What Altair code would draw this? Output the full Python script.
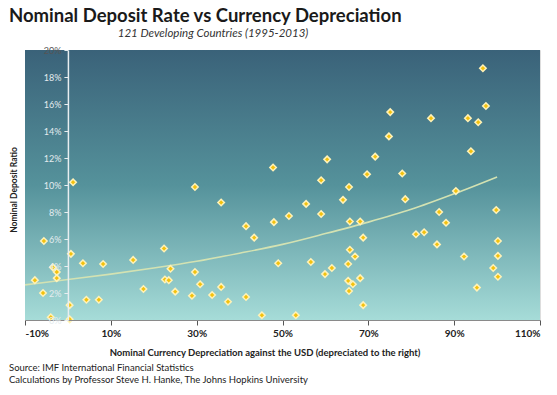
import altair as alt
import pandas as pd

# Scatter data: (nominal currency depreciation %, nominal deposit rate %)
dep_x = [1.2, 29.6, -5.6, 0.7, 3.5, 8.2, 15.2, 22.4, -3.5, -2.6, -2.6, -7.7, -5.8, 0.4, 4.3, 7.2,
         17.6, -4.0, 0.4, 22.6, 23.5, 23.9, 25.0, 29.6, 28.9, 30.8, 35.7, 47.8, 60.4, 71.6, 59.0,
         69.7, 65.5, 64.1, 55.5, 51.5, 59.0, 48.0, 41.5, 43.4, 65.7, 68.1, 68.8, 65.7, 66.9, 65.3,
         49.0, 56.6, 59.9, 61.5, 65.3, 66.4, 68.1, 65.5, 68.8, 33.6, 35.7, 37.3, 41.5, 45.2, 53.1,
         96.7, 97.4, 75.1, 84.6, 93.2, 95.6, 74.8, 93.9, 77.9, 78.6, 90.4, 86.5, 99.8, 88.1, 81.1,
         83.0, 86.0, 100.2, 92.3, 100.2, 99.1, 100.2, 95.3]
rate_y = [10.2, 9.85, 5.85, 4.9, 4.2, 4.15, 4.45, 5.3, 3.9, 3.55, 3.1, 2.95, 2.0, 1.1, 1.5, 1.5,
          2.3, 0.2, 0.05, 3.0, 2.95, 3.8, 2.1, 3.55, 1.8, 2.65, 8.7, 11.3, 11.9, 12.1, 10.35,
          10.8, 9.85, 8.9, 8.6, 7.7, 7.85, 7.25, 6.95, 6.1, 7.3, 7.3, 6.1, 5.2, 4.7, 4.15,
          4.2, 4.3, 3.4, 3.85, 2.9, 2.65, 3.1, 2.15, 1.1, 1.85, 2.45, 1.35, 1.7, 0.35, 0.35,
          18.65, 15.85, 15.4, 14.95, 14.95, 14.65, 13.6, 12.5, 10.85, 8.95, 9.55, 8.0, 8.15, 7.2, 6.35,
          6.5, 5.6, 5.85, 4.7, 4.75, 3.85, 3.2, 2.4]

# Trend line values
trend_x = [-10, 0, 10, 20, 30, 40, 50, 60, 70, 80, 90, 100]
trend_y = [2.6, 3.0, 3.4, 3.85, 4.35, 4.95, 5.6, 6.4, 7.25, 8.2, 9.35, 10.6]

x_ticks = [-10, 10, 30, 50, 70, 90, 110]
y_ticks = [0, 2, 4, 6, 8, 10, 12, 14, 16, 18, 20]

title = "Nominal Deposit Rate vs Currency Depreciation"
subtitle = "121 Developing Countries (1995-2013)"
x_title = "Nominal Currency Depreciation against the USD (depreciated to the right)"
y_title = "Nominal Deposit Ratio"
source_lines = ["Source:  IMF International Financial Statistics",
                "Calculations by Professor Steve H. Hanke, The Johns Hopkins University"]

W, H = 515, 270
FONT = "Lato"

pts = pd.DataFrame({"x": dep_x, "y": rate_y})
trend = pd.DataFrame({"x": trend_x, "y": trend_y})

xs = alt.Scale(domain=[-10, 110], nice=False, zero=False)
ys = alt.Scale(domain=[0, 20], nice=False, zero=False)

x_axis = alt.Axis(
    values=x_ticks, labelExpr="datum.value + '%'", title=None, grid=False, zindex=1,
    labelOverlap=False,
    domainColor="#8a8a8a", tickColor="#555555", tickSize=5, labelColor="#222222",
    labelFont=FONT, labelFontSize=10, labelFontWeight="bold", labelPadding=3)
y_axis = alt.Axis(
    values=y_ticks, labelExpr="datum.value + '%'", title=None, grid=False, zindex=1,
    labelOverlap=False, labelBound=False,
    labelColor={"condition": {"test": "datum.value >= 20", "value": "#555555"}, "value": "#e4ecef"},
    offset=-W * 10 / 120, domainColor="#e8eef0", domainWidth=1.5,
    tickColor="#e8eef0", tickSize=4,
    labelFont=FONT, labelFontSize=9, labelPadding=3)

def xe():
    return alt.X("x:Q", scale=xs, axis=x_axis)

def ye():
    return alt.Y("y:Q", scale=ys, axis=y_axis)

bg = alt.Chart(pd.DataFrame({"a": [0]})).mark_rect(
    color=alt.LinearGradient(
        gradient="linear", x1=0, y1=0, x2=0, y2=1,
        stops=[alt.GradientStop(offset=0, color="#3a6279"),
               alt.GradientStop(offset=0.5, color="#55929b"),
               alt.GradientStop(offset=1, color="#a6dcd8")])
).encode(x=alt.value(0), x2=alt.value(W), y=alt.value(0), y2=alt.value(H))

line = alt.Chart(trend).mark_line(color="#d3e2b2", strokeWidth=1.6, interpolate="monotone").encode(
    x=xe(), y=ye())

points = alt.Chart(pts).mark_point(shape="diamond", filled=True, size=42, fill="#f4c20d",
                                   stroke="#fff2b8", strokeWidth=1.5, opacity=1).encode(
    x=xe(), y=ye())

def text_layer(txt, x, y, **kw):
    return alt.Chart(pd.DataFrame({"t": [txt]})).mark_text(**kw).encode(
        text="t:N", x=alt.value(x), y=alt.value(y))

texts = [
    text_layer(title, -16, -28, align="left", baseline="alphabetic", font=FONT,
               fontSize=18.5, fontWeight="bold", color="#1a1a1a"),
    text_layer(subtitle, 188, -13, align="center", baseline="alphabetic", font=FONT,
               fontSize=11.5, fontStyle="italic", color="#333333"),
    text_layer(x_title, 240, 306, align="center", baseline="alphabetic", font=FONT,
               fontSize=9.5, fontWeight="bold", color="#222222"),
    text_layer(y_title, -11, 140, align="center", baseline="middle", font=FONT,
               fontSize=8.5, fontWeight="bold", color="#222222", angle=270),
    text_layer(source_lines[0], -16, 321, align="left", baseline="alphabetic", font=FONT,
               fontSize=9.5, color="#222222"),
    text_layer(source_lines[1], -16, 333, align="left", baseline="alphabetic", font=FONT,
               fontSize=9.5, color="#222222"),
]

chart = alt.layer(bg, line, points, *texts).properties(
    width=W, height=H,
    autosize=alt.AutoSizeParams(type="none"),
    padding={"left": 17, "top": 42, "right": 8, "bottom": 70},
).configure_view(
    stroke="#d0dade", strokeWidth=1,
).configure_axis(labelOverlap=False).configure(background="white")

chart.save("out.html", embed_options={"renderer": "svg", "actions": False})
